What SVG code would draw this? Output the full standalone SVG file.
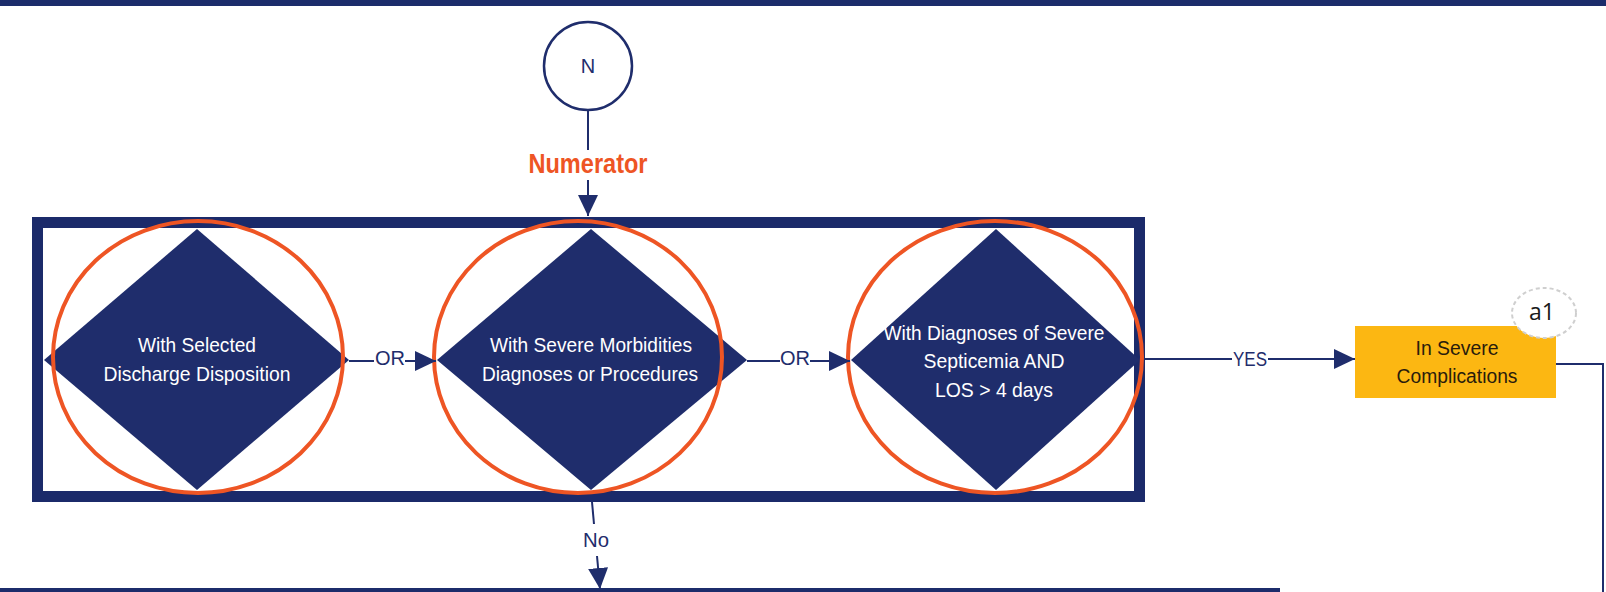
<svg xmlns="http://www.w3.org/2000/svg" width="1606" height="592" viewBox="0 0 1606 592">
  <style>
    .bar { fill: #1c2c6b; }
    .diamond { fill: #1f2d6c; }
    .dtext { font-family: "Liberation Sans", Arial, sans-serif; font-size: 21px; fill: #ffffff; text-anchor: middle; }
    .ltext { font-family: "Liberation Sans", Arial, sans-serif; font-size: 20px; fill: #1f2d6c; text-anchor: middle; }
    .btext { font-family: "Liberation Sans", Arial, sans-serif; font-size: 20px; fill: #2a1c0c; text-anchor: middle; }
    .conn { fill: none; stroke: #1f2d6c; stroke-width: 2; }
    .ring { fill: none; stroke: #ee5524; stroke-width: 4; }
  </style>
  <defs>
    <marker id="arrow" viewBox="0 0 21 20" refX="21" refY="10" markerWidth="21" markerHeight="20" markerUnits="userSpaceOnUse" orient="auto">
      <path d="M0,0 L21,10 L0,20 z" fill="#1f2d6c"/>
    </marker>
  </defs>

  <rect width="1606" height="592" fill="#ffffff"/>

  <!-- page band top and bottom -->
  <rect class="bar" x="0" y="0" width="1606" height="6"/>
  <rect class="bar" x="0" y="588" width="1280" height="4"/>

  <!-- connector start node -->
  <g id="node-n">
    <circle cx="588" cy="66" r="44" fill="#ffffff" stroke="#1f2d6c" stroke-width="2.5"/>
    <text x="588" y="73" font-family="Liberation Sans, Arial, sans-serif" font-size="20" fill="#1f2d6c" text-anchor="middle">N</text>
  </g>

  <!-- numerator group frame -->
  <g id="numerator-frame">
    <rect x="37.5" y="222.5" width="1102" height="274" fill="none" stroke="#1b2a6a" stroke-width="11"/>
  </g>

  <g id="decision-discharge">
    <polygon class="diamond" points="197,229 349,360 197,490 44,360"/>
    <text class="dtext" x="197" y="352" textLength="118" lengthAdjust="spacingAndGlyphs">With Selected</text>
    <text class="dtext" x="197" y="381" textLength="187" lengthAdjust="spacingAndGlyphs">Discharge Disposition</text>
  </g>

  <g id="decision-morbidities">
    <polygon class="diamond" points="591,229 747,360 591,490 437,360"/>
    <text class="dtext" x="591" y="352" textLength="202" lengthAdjust="spacingAndGlyphs">With Severe Morbidities</text>
    <text class="dtext" x="590" y="381" textLength="216" lengthAdjust="spacingAndGlyphs">Diagnoses or Procedures</text>
  </g>

  <g id="decision-septicemia">
    <polygon class="diamond" points="996,229 1140,360 996,490 851,360"/>
    <text class="dtext" x="994" y="340" textLength="221" lengthAdjust="spacingAndGlyphs">With Diagnoses of Severe</text>
    <text class="dtext" x="994" y="368" textLength="141" lengthAdjust="spacingAndGlyphs">Septicemia AND</text>
    <text class="dtext" x="994" y="397" textLength="118" lengthAdjust="spacingAndGlyphs">LOS &gt; 4 days</text>
  </g>

  <g id="outcome-severe">
    <rect x="1355" y="326" width="201" height="72" fill="#fcb712"/>
    <text class="btext" x="1457" y="355" textLength="83" lengthAdjust="spacingAndGlyphs">In Severe</text>
    <text class="btext" x="1457" y="383" textLength="121" lengthAdjust="spacingAndGlyphs">Complications</text>
  </g>

  <g id="callout-a1">
    <ellipse cx="1544" cy="313" rx="32" ry="25" fill="#ffffff" stroke="#cfcfcf" stroke-width="2" stroke-dasharray="4 3"/>
    <text x="1542" y="320" font-family="Open Sans, Liberation Sans, sans-serif" font-size="23" fill="#1a1a1a" text-anchor="middle">a1</text>
  </g>

  <!-- highlight rings around the three criteria -->
  <g id="highlights">
    <ellipse class="ring" cx="198" cy="357" rx="145" ry="136"/>
    <ellipse class="ring" cx="578" cy="357" rx="144" ry="136"/>
    <ellipse class="ring" cx="995" cy="357" rx="147" ry="136"/>
  </g>

  <g id="connectors">
    <!-- N to numerator frame -->
    <line class="conn" x1="588" y1="110" x2="588" y2="150"/>
    <text x="588" y="173" font-family="Liberation Sans, Arial, sans-serif" font-size="27" font-weight="bold" fill="#ee5524" text-anchor="middle" textLength="119" lengthAdjust="spacingAndGlyphs">Numerator</text>
    <line class="conn" x1="588" y1="180" x2="588" y2="216" marker-end="url(#arrow)"/>

    <!-- OR links -->
    <line class="conn" x1="349" y1="361" x2="374" y2="361"/>
    <text class="ltext" x="390" y="365" textLength="30" lengthAdjust="spacingAndGlyphs">OR</text>
    <line class="conn" x1="405" y1="361" x2="436" y2="361" marker-end="url(#arrow)"/>

    <line class="conn" x1="747" y1="361" x2="780" y2="361"/>
    <text class="ltext" x="795" y="365" textLength="30" lengthAdjust="spacingAndGlyphs">OR</text>
    <line class="conn" x1="810" y1="361" x2="850" y2="361" marker-end="url(#arrow)"/>

    <!-- YES to outcome -->
    <line class="conn" x1="1145" y1="359" x2="1232" y2="359"/>
    <text class="ltext" x="1250" y="366" textLength="34" lengthAdjust="spacingAndGlyphs">YES</text>
    <line class="conn" x1="1268" y1="359" x2="1355" y2="359" marker-end="url(#arrow)"/>

    <!-- outcome onward -->
    <polyline class="conn" points="1556,364 1603,364 1603,592"/>

    <!-- No branch -->
    <line class="conn" x1="592" y1="502" x2="594" y2="524"/>
    <text class="ltext" x="596" y="547" textLength="26" lengthAdjust="spacingAndGlyphs">No</text>
    <line class="conn" x1="597" y1="556" x2="600" y2="589" marker-end="url(#arrow)"/>
  </g>
</svg>
